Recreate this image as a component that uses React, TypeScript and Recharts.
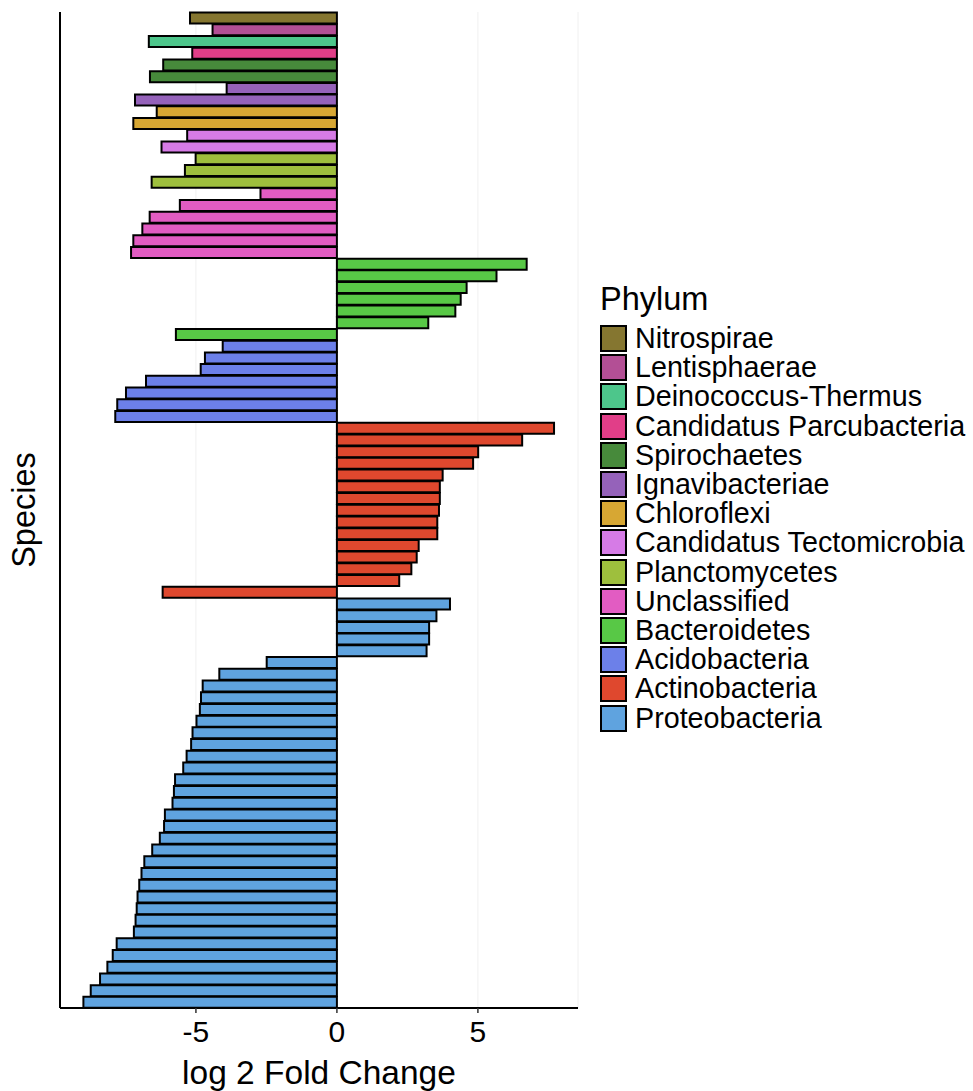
import {
  BarChart,
  Bar,
  Cell,
  XAxis,
  YAxis,
  CartesianGrid,
  Legend,
} from "recharts";

// phylum order (top to bottom, same as legend)
const PHYLA = [
  "Nitrospirae",
  "Lentisphaerae",
  "Deinococcus-Thermus",
  "Candidatus Parcubacteria",
  "Spirochaetes",
  "Ignavibacteriae",
  "Chloroflexi",
  "Candidatus Tectomicrobia",
  "Planctomycetes",
  "Unclassified",
  "Bacteroidetes",
  "Acidobacteria",
  "Actinobacteria",
  "Proteobacteria",
];

const PHYLUM_COLORS = [
  "#857630", "#b34f95", "#4dc68b", "#e13e88", "#478a3b", "#9562ba", "#d7a733",
  "#d67be6", "#9ebf3d", "#e25cc2", "#58c846", "#6c80e9", "#df482e", "#5fa3df",
];

// log2 fold change per species, grouped by phylum
const nitrospirae = [-5.21];
const lentisphaerae = [-4.41];
const deinococcusThermus = [-6.67];
const parcubacteria = [-5.13];
const spirochaetes = [-6.16, -6.63];
const ignavibacteriae = [-3.91, -7.16];
const chloroflexi = [-6.39, -7.22];
const tectomicrobia = [-5.31, -6.22];
const planctomycetes = [-5.01, -5.39, -6.57];
const unclassified = [-2.71, -5.57, -6.64, -6.9, -7.22, -7.3];
const bacteroidetes = [6.73, 5.66, 4.6, 4.39, 4.2, 3.24, -5.71];
const acidobacteria = [-4.05, -4.68, -4.83, -6.77, -7.48, -7.79, -7.86];
const actinobacteria = [
  7.7, 6.57, 5.01, 4.83, 3.75, 3.65, 3.65, 3.62, 3.56, 3.56, 2.9, 2.83, 2.64, 2.21, -6.18,
];
const proteobacteria = [
  4.01, 3.53, 3.27, 3.27, 3.18,
  -2.49, -4.17, -4.76, -4.82, -4.86, -4.98, -5.12, -5.17, -5.33, -5.45,
  -5.74, -5.78, -5.83, -6.1, -6.13, -6.28, -6.55, -6.83, -6.93, -7.01,
  -7.07, -7.1, -7.14, -7.2, -7.81, -7.95, -8.14, -8.4, -8.73, -8.99,
];

const VALUES_BY_PHYLUM = [
  nitrospirae, lentisphaerae, deinococcusThermus, parcubacteria, spirochaetes,
  ignavibacteriae, chloroflexi, tectomicrobia, planctomycetes, unclassified,
  bacteroidetes, acidobacteria, actinobacteria, proteobacteria,
];

const X_TICKS = [-5, 0, 5];

const rows: { species: string; value: number; phylum: number }[] = [];
VALUES_BY_PHYLUM.forEach((vals, p) => {
  vals.forEach((v) => {
    rows.push({ species: `sp${rows.length + 1}`, value: v, phylum: p });
  });
});

const W = 973;
const H = 1091;
const PLOT_LEFT = 60;
const PLOT_RIGHT = 578;
const PLOT_TOP = 12;
const PLOT_BOTTOM = 1008;
const FONT = "'Liberation Sans', Arial, sans-serif";

function PhylumLegend() {
  return (
    <div style={{ fontFamily: FONT, color: "#000" }}>
      <div style={{ fontSize: 32.5, lineHeight: "31px", height: 40 }}>Phylum</div>
      {PHYLA.map((name, i) => (
        <div
          key={name}
          style={{ display: "flex", alignItems: "center", height: 29.2 }}
        >
          <div
            style={{
              width: 27,
              height: 27,
              boxSizing: "border-box",
              border: "2px solid #000",
              background: PHYLUM_COLORS[i],
              marginRight: 8,
            }}
          />
          <span style={{ fontSize: 28.7, lineHeight: "29px", whiteSpace: "nowrap" }}>
            {name}
          </span>
        </div>
      ))}
    </div>
  );
}

export default function App() {
  return (
    <div style={{ position: "absolute", left: 0, top: 0, background: "#fff" }}>
      <BarChart
        width={W}
        height={H}
        data={rows}
        layout="vertical"
        barCategoryGap="5%"
        margin={{ top: PLOT_TOP, right: W - PLOT_RIGHT, left: 0, bottom: 0 }}
      >
        <CartesianGrid horizontal={false} stroke="#f0f0f0" strokeWidth={1} />
        <XAxis
          type="number"
          domain={[-9.82, 8.55]}
          ticks={X_TICKS}
          allowDataOverflow
          height={H - PLOT_BOTTOM}
          axisLine={{ stroke: "#000", strokeWidth: 2 }}
          tickLine={{ stroke: "#333", strokeWidth: 1.5 }}
          tickSize={5}
          tickMargin={8}
          tick={{ fontSize: 30, fill: "#000", fontFamily: FONT }}
          label={{
            content: () => (
              <text
                x={(PLOT_LEFT + PLOT_RIGHT) / 2}
                y={1084}
                textAnchor="middle"
                fontSize={33.5}
                fontFamily={FONT}
                fill="#000"
              >
                log 2 Fold Change
              </text>
            ),
          }}
        />
        <YAxis
          type="category"
          dataKey="species"
          width={PLOT_LEFT}
          tick={false}
          tickLine={false}
          axisLine={{ stroke: "#000", strokeWidth: 2 }}
          label={{
            content: () => (
              <text
                x={35}
                y={(PLOT_TOP + PLOT_BOTTOM) / 2}
                transform={`rotate(-90, 35, ${(PLOT_TOP + PLOT_BOTTOM) / 2})`}
                textAnchor="middle"
                fontSize={32.5}
                fontFamily={FONT}
                fill="#000"
              >
                Species
              </text>
            ),
          }}
        />
        <Legend
          layout="horizontal"
          verticalAlign="middle"
          align="center"
          wrapperStyle={{ left: 600, top: 284, width: 373 }}
          content={() => <PhylumLegend />}
        />
        <Bar dataKey="value" stroke="#000" strokeWidth={2} isAnimationActive={false}>
          {rows.map((r) => (
            <Cell key={r.species} fill={PHYLUM_COLORS[r.phylum]} />
          ))}
        </Bar>
      </BarChart>
    </div>
  );
}
